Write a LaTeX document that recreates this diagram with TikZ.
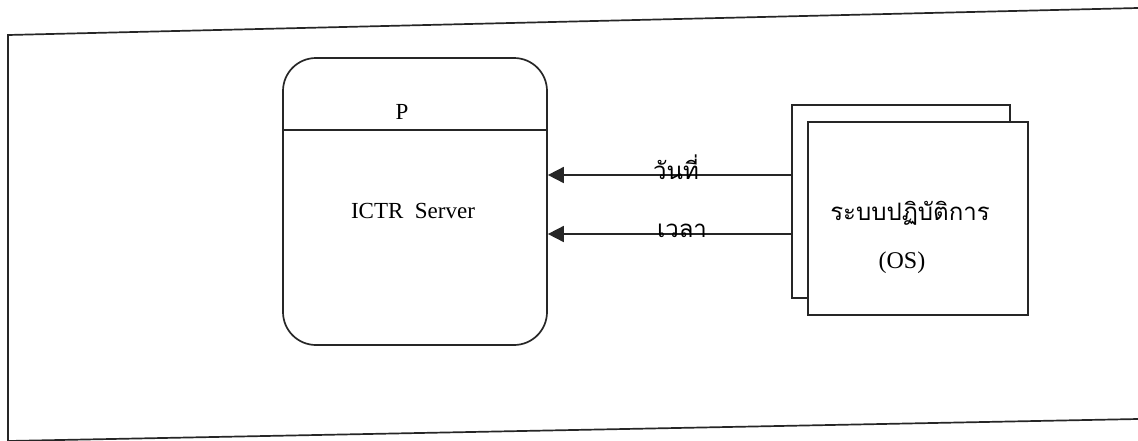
\documentclass[tikz,border=0pt]{standalone}
\usepackage{fontspec}
\setmainfont{Liberation Serif}
\newfontfamily\thaifont[Script=Thai]{Loma}
\usetikzlibrary{arrows.meta}
\tikzset{
  ln/.style={line width=1.7pt, draw=black!85},
  proc/.style={ln, rounded corners=33pt, minimum width=264pt, minimum height=287pt, inner sep=0pt},
  ent/.style={ln, fill=white, minimum width=220pt, minimum height=193pt, inner sep=0pt},
  arr/.style={ln, -{Triangle[length=16pt,width=16pt]}},
  lat/.style={font=\fontsize{23}{26}\selectfont, inner sep=0pt},
  th/.style={font=\thaifont\fontsize{24}{28}\selectfont, inner sep=0pt, anchor=base},
}
\begin{document}
\begin{tikzpicture}[x=1pt,y=-1pt]
\useasboundingbox (0,0) rectangle (1138,440);
\fill[white] (0,0) rectangle (1138,440);
% frame (scanned page, slightly skewed)
\coordinate (ftl) at (8,35);
\coordinate (ftr) at (1138,8);
\coordinate (fbl) at (8,441);
\coordinate (fbr) at (1138,419);
\draw[ln] (ftr) -- (ftl) -- (fbl);
\draw[ln] (fbl) -- (fbr);
% process box
\node[proc] (p) at (415,201.5) {};
\draw[ln] (p.west |- 0,130) -- (p.east |- 0,130);
\node[lat] (pl) at (402,112) {P};
\node[lat] (ictr) at (413,211) {ICTR\ \ Server};
% external entity (OS), stacked boxes
\node[ent, minimum width=218pt] (osb) at (901,201.5) {};
\node[ent] (os) at (918,218.5) {};
\node[th] (ost) at (910,220) {ระบบปฏิบัติการ};
\node[lat, anchor=base, font=\fontsize{24}{28}\selectfont] (osl) at (902,268) {(OS)};
% flows
\draw[arr] (osb.west |- 0,175) -- (p.east |- 0,175);
\draw[arr] (osb.west |- 0,234) -- (p.east |- 0,234);
\node[th] (d1) at (676,179) {วันที่};
\node[th] (d2) at (682,237) {เวลา};
\end{tikzpicture}
\end{document}
